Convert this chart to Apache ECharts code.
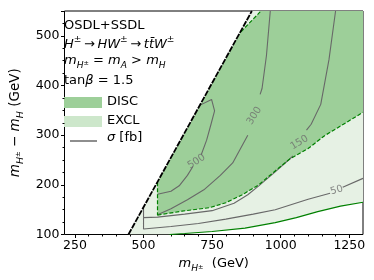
<!DOCTYPE html>
<html><head><meta charset="utf-8">
<script src="https://cdn.jsdelivr.net/npm/echarts@6/dist/echarts.min.js"></script>
<style>html,body{margin:0;padding:0;background:#fff}#c{width:374px;height:280px}</style>
</head><body><div id="c"></div>
<script>
// ---- data ----
const xTicks = [250, 500, 750, 1000, 1250];
const xMinorTicks = [300, 350, 400, 450, 550, 600, 650, 700, 800, 850, 900, 950, 1050, 1100, 1150, 1200];
const kinLine = [[445, 100], [895, 550]];
const exclBoundary = [[595, 100], [650, 102], [750, 106], [870, 113], [980, 124], [1057, 134], [1135, 146], [1218, 157], [1300, 165]];
const discLower = [[551, 139], [640, 147], [740, 154], [800, 164], [860, 180], [920, 200], [980, 228], [1033, 252], [1100, 273], [1160, 299], [1220, 319], [1300, 346]];
const discEdgeLeft = [[551, 205], [551, 139]];
const discEdgeTop = [[855, 508], [928, 550]];
const sig500a = [[551, 181], [600, 187], [630, 198], [660, 219], [680, 237]];
const sig500b = [[710, 260], [730, 290], [745, 320], [759, 349], [748, 372], [708, 361]];
const sig300a = [[551, 140], [600, 152], [660, 170], [720, 190], [780, 219], [825, 244], [880, 300]];
const sig300b = [[925, 382], [932, 394], [948, 460], [962, 550]];
const sig150a = [[500, 155], [500, 134], [551, 135], [650, 141], [750, 148], [830, 163], [880, 180], [920, 198], [980, 226], [1045, 258]];
const sig150b = [[1094, 310], [1111, 322], [1146, 362], [1176, 452], [1200, 550]];
const sig50a = [[500, 134], [500, 111], [600, 116], [700, 122], [800, 131], [900, 141], [980, 150], [1100, 171], [1180, 183]];
const sig50b = [[1226, 195], [1300, 213]];
const contourLabels = [[693, 247, '500', 33], [904, 339, '300', 58], [1068, 285, '150', 32], [1204, 189, '50', 16]];

const DISC_C = '#9dcf99', EXCL_C = '#e6f1e4', EXCL_LEG = '#cde7cb', CONT_C = '#686868', GREEN = '#008000';
const FONT = 'DejaVu Sans';

function polySeries(name, pts, color, z) {
  return {
    type: 'custom', name, data: pts, silent: true, z, clip: true,
    renderItem: (params, api) => params.dataIndex === 0 ? {
      type: 'polygon', shape: { points: pts.map(p => api.coord(p)) }, style: { fill: color }
    } : null
  };
}
function lineSeries(name, data, color, width, type, z) {
  return { type: 'line', name, data, symbol: 'none', silent: true, z,
    lineStyle: { color, width, type }, animation: false };
}
const exclPoly = [kinLine[0], ...exclBoundary, [1300, 550], kinLine[1]];
const discPoly = [...discLower, [1300, 550], discEdgeTop[1], discEdgeTop[0], discEdgeLeft[0]];

const rich = (fs) => ({
  n: { fontFamily: FONT, fontSize: fs, color: '#000', lineHeight: fs + 6 },
  i: { fontFamily: FONT, fontSize: fs, fontStyle: 'italic', color: '#000', lineHeight: fs + 6 },
  sup: { fontFamily: FONT, fontSize: fs * 0.7, color: '#000', verticalAlign: 'top', lineHeight: fs * 0.7 },
  sub: { fontFamily: FONT, fontSize: fs * 0.7, fontStyle: 'italic', color: '#000', verticalAlign: 'bottom', lineHeight: fs * 0.7 },
  subs: { fontFamily: FONT, fontSize: fs * 0.5, color: '#000', verticalAlign: 'bottom', lineHeight: fs * 0.5, padding: [0, 0, 3, 0] }
});

const chart = echarts.init(document.getElementById('c'), null, { renderer: 'canvas' });
chart.setOption({
  animation: false,
  grid: { left: 59, right: 11, top: 11, bottom: 45.5, show: true, borderColor: '#000', borderWidth: 1, backgroundColor: 'transparent' },
  xAxis: [{
    type: 'value', min: 212, max: 1300,
    name: '{i|m}{sub|H}{subs|±}{n|  (GeV)}', nameLocation: 'middle', nameGap: 20,
    nameTextStyle: { rich: rich(13) },
    axisLine: { show: false }, splitLine: { show: false },
    axisTick: { show: true, length: 3.5, lineStyle: { color: '#000' }, customValues: xTicks },
    axisLabel: { customValues: xTicks, fontFamily: FONT, fontSize: 12.5, color: '#000', margin: 5, formatter: v => String(v) }
  }, {
    type: 'value', min: 212, max: 1300, position: 'bottom',
    axisLine: { show: false }, splitLine: { show: false },
    axisTick: { show: true, length: 2, lineStyle: { color: '#000' }, customValues: xMinorTicks },
    axisLabel: { show: false, customValues: xMinorTicks }
  }],
  yAxis: {
    type: 'value', min: 100, max: 550, interval: 100,
    name: '{i|m}{sub|H}{subs|±}{n| − }{i|m}{sub|H}{n| (GeV)}', nameLocation: 'middle', nameGap: 38, nameRotate: 90,
    nameTextStyle: { rich: rich(13.5) },
    axisLine: { show: false }, splitLine: { show: false },
    axisTick: { show: true, length: 3.5, lineStyle: { color: '#000' } },
    minorTick: { show: true, splitNumber: 4, length: 2, lineStyle: { color: '#000' } },
    axisLabel: { fontFamily: FONT, fontSize: 12.5, color: '#000', margin: 5,
      formatter: v => (v % 100 === 0 && v <= 500) ? String(v) : '' }
  },
  series: [
    polySeries('EXCL', exclPoly, EXCL_C, 1),
    polySeries('DISC', discPoly, DISC_C, 2),
    lineSeries('s500a', sig500a, CONT_C, 1.1, 'solid', 3),
    lineSeries('s500b', sig500b, CONT_C, 1.1, 'solid', 3),
    lineSeries('s300a', sig300a, CONT_C, 1.1, 'solid', 3),
    lineSeries('s300b', sig300b, CONT_C, 1.1, 'solid', 3),
    lineSeries('s150a', sig150a, CONT_C, 1.1, 'solid', 3),
    lineSeries('s150b', sig150b, CONT_C, 1.1, 'solid', 3),
    lineSeries('s50a', sig50a, CONT_C, 1.1, 'solid', 3),
    lineSeries('s50b', sig50b, CONT_C, 1.1, 'solid', 3),
    lineSeries('excl', exclBoundary, GREEN, 1.2, 'solid', 4),
    lineSeries('discL', discLower, GREEN, 1.2, [4, 2], 4),
    lineSeries('discE', discEdgeLeft, GREEN, 1.2, [4, 2], 4),
    lineSeries('discT', discEdgeTop, GREEN, 1.2, [4, 2], 4),
    lineSeries('kin', kinLine, '#000', 1.8, [6, 1.2], 5),
    {
      type: 'scatter', name: 'labels', symbolSize: 0, silent: true, z: 6,
      data: contourLabels.map(l => ({ value: [l[0], l[1]], label: { rotate: l[3], formatter: l[2] } })),
      label: { show: true, position: 'inside', fontFamily: FONT, fontSize: 10, color: '#6e6e6e' }
    }
  ],
  graphic: [
    { type: 'text', left: 64, top: 19, style: { text: 'OSDL+SSDL', font: '13px "DejaVu Sans"', fill: '#000' } },
    { type: 'text', left: 64, top: 35, style: { text: '{i|H}{sup|±}{n|\u2009→\u2009}{i|HW}{sup|±}{n|\u2009→\u2009}{i|tt̄W}{sup|±}', rich: rich(13) } },
    { type: 'text', left: 64, top: 54, style: { text: '{i|m}{sub|H}{subs|±}{n| = }{i|m}{sub|A}{n| > }{i|m}{sub|H}', rich: rich(13) } },
    { type: 'text', left: 64, top: 74, style: { text: '{n|tan}{i|β}{n| = 1.5}', rich: rich(13) } },
    { type: 'rect', shape: { x: 64, y: 97, width: 38, height: 11 }, style: { fill: DISC_C } },
    { type: 'text', left: 107, top: 95, style: { text: 'DISC', font: '13px "DejaVu Sans"', fill: '#000' } },
    { type: 'rect', shape: { x: 64, y: 116, width: 38, height: 11 }, style: { fill: EXCL_LEG } },
    { type: 'text', left: 107, top: 114.5, style: { text: 'EXCL', font: '13px "DejaVu Sans"', fill: '#000' } },
    { type: 'line', shape: { x1: 70, y1: 141, x2: 97, y2: 141 }, style: { stroke: CONT_C, lineWidth: 1.5 } },
    { type: 'text', left: 107, top: 131.5, style: { text: '{i|σ}{n| [fb]}', rich: rich(13) } }
  ]
});
</script></body></html>
